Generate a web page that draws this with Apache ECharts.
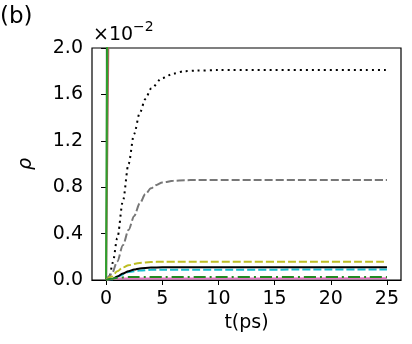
<!DOCTYPE html>
<html>
<head>
<meta charset="utf-8">
<script src="https://cdn.jsdelivr.net/npm/echarts@6/dist/echarts.min.js"></script>
<style>
  html, body { margin: 0; padding: 0; background: #fff; }
  #chart1 { width: 412px; height: 344px; }
</style>
</head>
<body>
<div id="chart1"></div>
<script>
// values in units of 1e-2, time in ps
const xTicks = [0, 5, 10, 15, 20, 25];
const yTicks = [0, 0.4, 0.8, 1.2, 1.6, 2.0];

const greenFast = [[0, 0], [0.12, 2.5], [0.3, 10], [25, 10]];
const brownFast = [[0, 0], [0.25, 2.5], [0.5, 10], [25, 10]];
const blackDotted = [[0, 0], [0.3, 0.03], [0.6, 0.15], [1, 0.36], [1.5, 0.68], [2, 1.0], [2.5, 1.26],
  [3, 1.44], [3.5, 1.56], [4, 1.65], [5, 1.74], [6, 1.78], [7, 1.8], [8, 1.805], [10, 1.81], [25, 1.81]];
const grayDashed = [[0, 0], [0.5, 0.05], [1, 0.16], [1.5, 0.3], [2, 0.43], [2.5, 0.55], [3, 0.66],
  [3.5, 0.74], [4, 0.79], [4.5, 0.82], [5, 0.84], [6, 0.855], [7, 0.86], [8, 0.862], [25, 0.862]];
const yellowDashed = [[0, 0], [0.5, 0.03], [1, 0.075], [1.5, 0.108], [2, 0.128], [3, 0.147], [4, 0.155],
  [5, 0.158], [25, 0.158]];
const cyanDashed = [[0, 0], [0.5, 0.005], [1, 0.028], [2, 0.068], [3, 0.082], [4, 0.088], [5, 0.089], [25, 0.09]];
const blackSolid = [[0, 0], [0.5, 0.005], [1, 0.03], [1.5, 0.055], [2, 0.075], [2.5, 0.09], [3, 0.1],
  [4, 0.107], [5, 0.109], [25, 0.11]];
const greenDashDot = [[0, 0], [0.5, 0.01], [1, 0.02], [2, 0.025], [25, 0.026]];
const pinkSolid = [[0, 0], [0.5, 0.008], [1, 0.013], [25, 0.015]];

const font = 'DejaVu Sans';

function line(data, color, type, width, smooth) {
  return {
    type: 'line', data: data, showSymbol: false, symbol: 'none',
    smooth: smooth ? 0.3 : false, smoothMonotone: 'x',
    lineStyle: { color: color, type: type, width: width || 2, cap: 'butt' },
    animation: false
  };
}

option = {
  animation: false,
  grid: { left: 92, right: 11, top: 48, bottom: 64, show: true, borderColor: '#000', borderWidth: 1.2 },
  xAxis: {
    type: 'value', min: -1.25, max: 26.25,
    name: 't(ps)', nameLocation: 'middle', nameGap: 33,
    nameTextStyle: { fontFamily: font, fontSize: 19, color: '#000' },
    axisLine: { show: true, lineStyle: { color: '#000', width: 1.2 } },
    axisTick: { show: true, inside: false, length: 5, customValues: xTicks, lineStyle: { color: '#000' } },
    axisLabel: { customValues: xTicks, margin: 10, fontFamily: font, fontSize: 19, color: '#000' },
    splitLine: { show: false }
  },
  yAxis: {
    type: 'value', min: 0, max: 2.0, interval: 0.4,
    name: 'ρ', nameLocation: 'middle', nameGap: 56, nameRotate: 90,
    nameTextStyle: { fontFamily: font, fontSize: 19, fontStyle: 'italic', color: '#000' },
    axisLine: { show: true, lineStyle: { color: '#000', width: 1.2 } },
    axisTick: { show: true, inside: false, length: 5, lineStyle: { color: '#000' } },
    axisLabel: { margin: 9, fontFamily: font, fontSize: 19, color: '#000',
      formatter: v => v.toFixed(1) },
    splitLine: { show: false }
  },
  graphic: [
    { type: 'text', left: 0, top: 6, style: { text: '(b)', font: '23px "DejaVu Sans"', fill: '#000' } },
    { type: 'text', left: 93, top: 26, style: { text: '×10', font: '19px "DejaVu Sans"', fill: '#000' } },
    { type: 'text', left: 133, top: 20, style: { text: '−2', font: '14px "DejaVu Sans"', fill: '#000' } }
  ],
  series: [
    line(brownFast, '#a86a5e', 'solid', 2, false),
    line(greenFast, '#2ca02c', 'solid', 2, false),
    line(blackDotted, '#000', [2, 4], 2, true),
    line(grayDashed, '#777', [8, 3], 2, true),
    line(yellowDashed, '#bcbd22', [8, 3], 2, true),
    line(cyanDashed, '#17becf', [8, 3], 2, true),
    line(blackSolid, '#000', 'solid', 2, true),
    line(pinkSolid, '#e377c2', 'solid', 2, true),
    line(greenDashDot, '#228b22', [12, 4, 2, 4], 2, true)
  ]
};

let chart1 = echarts.init(document.getElementById('chart1'));
chart1.setOption(option);
</script>
</body>
</html>
